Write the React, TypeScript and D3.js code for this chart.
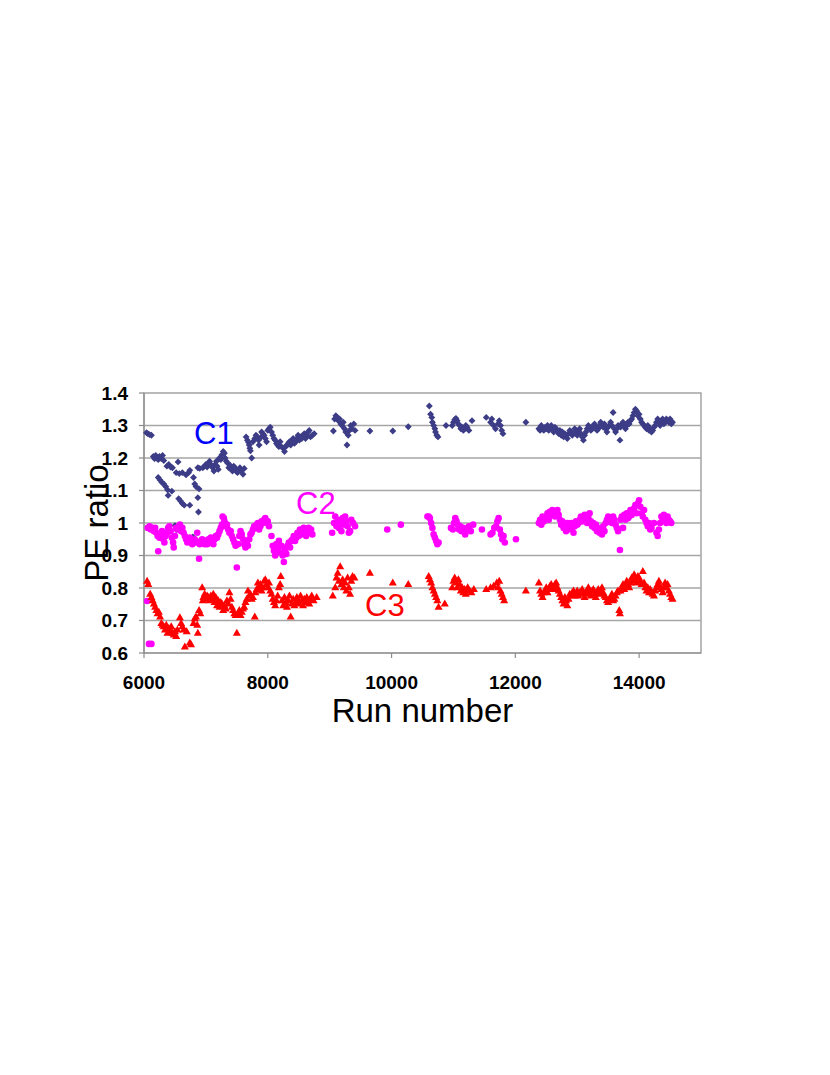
import React from "react";
import * as d3 from "d3";

const yTicks = [0.6, 0.7, 0.8, 0.9, 1, 1.1, 1.2, 1.3, 1.4];
const xTicks = [6000, 8000, 10000, 12000, 14000];

const c1Points: [number, number][] = [
  [6040,1.278],[6060,1.275],[6090,1.272],[6120,1.27],
  [6150,1.205],[6170,1.198],[6190,1.208],[6210,1.2],[6230,1.195],[6250,1.205],[6280,1.198],[6300,1.208],[6320,1.192],
  [6370,1.175],[6400,1.18],[6430,1.172],[6460,1.17],
  [6550,1.188],[6520,1.155],[6570,1.152],[6620,1.155],[6680,1.148],[6720,1.155],[6740,1.162],
  [6870,1.17],[6900,1.168],
  [6230,1.14],[6260,1.132],[6290,1.125],[6320,1.12],[6350,1.112],[6380,1.102],[6450,1.098],[6390,1.085],
  [6560,1.075],[6590,1.068],[6620,1.06],[6650,1.055],[6740,1.055],[6800,1.14],[6820,1.12],[6840,1.112],
  [6890,1.105],[6870,1.078],[6880,1.034],[6500,0.992],[6520,0.98],[6790,0.957],
  [6950,1.17],[6980,1.175],[7000,1.18],[7020,1.172],[7040,1.185],[7060,1.19],[7080,1.18],[7100,1.175],[7110,1.17],
  [7130,1.16],[7150,1.18],[7170,1.19],[7180,1.175],[7200,1.165],[7220,1.2],[7240,1.195],[7260,1.21],[7280,1.22],
  [7300,1.215],[7310,1.2],[7330,1.19],[7350,1.185],[7370,1.17],[7390,1.178],[7410,1.165],[7430,1.16],[7450,1.175],
  [7470,1.17],[7490,1.16],[7510,1.155],[7530,1.165],[7550,1.17],[7570,1.16],[7600,1.15],[7620,1.168],
  [7650,1.265],[7670,1.255],[7690,1.248],[7700,1.24],[7710,1.23],[7720,1.222],[7740,1.2],[7760,1.25],[7790,1.26],
  [7810,1.27],[7830,1.265],[7850,1.255],[7860,1.24],[7880,1.262],[7900,1.28],[7920,1.275],[7940,1.27],[7960,1.26],
  [7980,1.25],[8000,1.285],[8020,1.29],[8040,1.295],[8060,1.28],[8080,1.27],[8100,1.26],[8120,1.255],[8140,1.245],
  [8160,1.24],[8180,1.235],[8200,1.25],[8220,1.235],[8250,1.23],[8270,1.22],[8290,1.235],[8310,1.24],[8330,1.245],
  [8350,1.25],[8370,1.24],[8390,1.255],[8410,1.26],[8430,1.245],[8450,1.25],[8470,1.26],[8490,1.27],[8510,1.255],
  [8530,1.265],[8550,1.26],[8570,1.27],[8590,1.275],[8610,1.26],[8630,1.27],[8650,1.28],[8670,1.285],[8690,1.265],
  [8720,1.27],[8750,1.275],
  [9060,1.283],[9080,1.32],[9100,1.33],[9120,1.325],[9140,1.315],[9160,1.32],[9180,1.305],[9200,1.3],[9220,1.31],
  [9240,1.29],[9260,1.28],[9280,1.24],[9300,1.27],[9320,1.285],[9340,1.3],[9360,1.29],[9390,1.305],[9410,1.285],
  [9650,1.283],[10020,1.283],[10270,1.296],
  [10610,1.36],[10630,1.335],[10650,1.325],[10660,1.31],[10680,1.3],[10700,1.29],[10710,1.28],[10730,1.27],[10750,1.265],
  [10880,1.3],
  [10980,1.3],[11000,1.31],[11020,1.318],[11040,1.322],[11060,1.315],[11080,1.305],[11100,1.3],[11120,1.29],
  [11140,1.295],[11160,1.285],[11180,1.29],[11200,1.3],[11220,1.295],[11250,1.285],[11300,1.315],
  [11530,1.325],[11600,1.31],[11620,1.32],[11650,1.3],[11680,1.29],[11720,1.305],[11740,1.315],[11760,1.3],
  [11780,1.285],[11800,1.275],[12170,1.31],
  [12380,1.29],[12400,1.285],[12420,1.3],[12440,1.29],[12460,1.285],[12480,1.295],[12500,1.29],[12520,1.3],
  [12540,1.285],[12560,1.295],[12580,1.3],[12600,1.29],[12620,1.28],[12640,1.295],[12660,1.29],[12680,1.285],
  [12700,1.275],[12720,1.285],[12740,1.27],[12760,1.28],[12780,1.265],[12800,1.275],[12820,1.27],[12840,1.26],
  [12860,1.275],[12880,1.285],[12900,1.28],[12920,1.27],[12940,1.275],[12960,1.29],[12980,1.28],[13000,1.27],
  [13020,1.285],[13040,1.29],[13060,1.275],[13080,1.265],[13100,1.255],[13120,1.27],[13140,1.28],[13160,1.29],
  [13180,1.3],[13200,1.295],[13220,1.285],[13240,1.29],[13260,1.3],[13280,1.305],[13300,1.295],[13320,1.285],
  [13340,1.29],[13360,1.3],[13380,1.31],[13400,1.3],[13420,1.295],[13440,1.305],[13460,1.29],[13480,1.28],
  [13500,1.295],[13520,1.3],[13540,1.31],[13560,1.3],[13580,1.34],[13600,1.29],[13620,1.28],[13640,1.29],
  [13660,1.3],[13690,1.255],[13700,1.295],[13720,1.305],[13740,1.31],[13760,1.3],[13780,1.29],[13800,1.3],
  [13820,1.31],[13840,1.305],[13860,1.315],[13880,1.32],[13900,1.33],[13920,1.34],[13940,1.35],[13960,1.345],
  [13980,1.33],[14000,1.335],[14020,1.32],[14040,1.31],[14060,1.305],[14080,1.3],[14100,1.295],[14120,1.29],
  [14140,1.3],[14160,1.285],[14180,1.29],[14200,1.28],[14220,1.285],[14240,1.295],[14260,1.3],[14280,1.31],
  [14300,1.32],[14320,1.31],[14340,1.3],[14360,1.315],[14380,1.32],[14400,1.305],[14420,1.31],[14440,1.32],
  [14460,1.315],[14480,1.31],[14500,1.32],[14520,1.305],[14540,1.31],
];

const c2Points: [number, number][] = [
  [6050,0.76],[6080,0.628],[6120,0.628],
  [6060,0.985],[6090,0.99],[6110,0.98],[6130,0.985],[6160,0.975],[6180,0.985],[6200,0.97],[6220,0.96],[6230,0.913],
  [6250,0.955],[6270,0.965],[6290,0.975],[6310,0.95],[6330,0.94],[6350,0.96],[6370,0.97],[6390,0.985],[6410,0.99],
  [6430,0.975],[6450,0.955],[6470,0.94],[6480,0.925],[6500,0.96],[6520,0.985],[6540,0.98],[6560,0.99],[6580,0.995],
  [6600,0.975],[6620,0.985],[6640,0.97],[6660,0.96],[6680,0.95],[6700,0.94],[6720,0.945],[6740,0.955],[6760,0.94],
  [6780,0.935],[6800,0.945],[6820,0.95],[6840,0.94],[6860,0.97],[6890,0.89],[6900,0.935],[6920,0.945],[6940,0.95],
  [6960,0.94],[6980,0.935],
  [7000,0.945],[7020,0.935],[7040,0.95],[7060,0.94],[7080,0.955],[7100,0.945],[7120,0.935],[7140,0.95],[7160,0.96],
  [7180,0.955],[7200,0.965],[7220,0.975],[7240,0.985],[7260,0.995],[7270,1.02],[7290,1.015],[7300,1.005],[7320,0.99],
  [7340,0.995],[7360,0.98],[7380,0.97],[7400,0.975],[7420,0.96],[7440,0.95],[7460,0.94],[7480,0.93],[7500,0.863],
  [7520,0.935],[7540,0.96],[7560,0.975],[7580,0.965],[7600,0.95],[7620,0.935],[7640,0.925],[7660,0.94],[7680,0.93],
  [7700,0.95],[7720,0.965],[7740,0.97],[7760,0.98],[7780,0.99],[7800,0.985],[7820,0.995],[7840,1.0],[7860,0.98],
  [7880,0.99],[7900,1.005],[7920,1.0],[7940,1.01],[7960,1.015],[7980,1.0],[8000,1.005],[8020,0.99],[8060,0.96],
  [8080,0.93],[8100,0.915],[8120,0.9],[8140,0.935],[8160,0.92],[8180,0.945],[8200,0.91],[8220,0.93],[8240,0.9],
  [8260,0.88],[8280,0.92],[8300,0.905],[8320,0.93],[8340,0.94],[8360,0.925],[8380,0.945],[8400,0.95],[8420,0.96],
  [8440,0.945],[8460,0.955],[8480,0.97],[8500,0.96],[8520,0.98],[8540,0.965],[8560,0.975],[8580,0.985],[8600,0.97],
  [8620,0.96],[8640,0.975],[8660,0.985],[8680,0.97],[8700,0.98],[8720,0.965],
  [9040,0.97],[9070,1.0],[9090,1.02],[9110,0.99],[9130,1.01],[9150,0.985],[9170,1.0],[9190,0.975],[9210,1.015],
  [9230,0.995],[9250,1.02],[9270,1.005],[9290,0.99],[9310,0.97],[9330,0.975],[9350,1.01],[9380,1.0],[9410,0.99],
  [9930,0.98],[10150,0.995],
  [10580,1.02],[10600,1.02],[10620,1.015],[10640,1.0],[10660,0.985],[10680,0.965],[10700,0.955],[10720,0.945],
  [10740,0.935],[10760,0.94],
  [10960,0.985],[10990,0.98],[11010,1.0],[11030,1.015],[11050,1.005],[11070,0.995],[11090,0.98],[11110,0.99],
  [11130,0.975],[11160,0.985],[11190,0.965],[11220,0.98],[11250,0.99],[11280,0.975],[11320,0.995],[11460,0.98],
  [11600,0.965],[11630,0.97],[11660,0.985],[11690,0.99],[11710,1.005],[11730,1.015],[11750,0.98],[11770,0.965],
  [11790,0.95],[11810,0.96],[11830,0.94],[12010,0.95],
  [12380,1.0],[12400,1.01],[12420,0.995],[12440,1.02],[12460,1.005],[12480,1.015],[12500,1.02],[12520,1.03],
  [12540,1.01],[12560,1.035],[12580,1.025],[12600,1.04],[12620,1.03],[12640,1.02],[12660,1.035],[12680,1.04],
  [12700,1.025],[12720,1.01],[12740,0.995],[12760,1.005],[12780,0.985],[12800,0.99],[12820,0.975],[12840,1.0],
  [12860,0.98],[12880,0.99],[12900,1.0],[12920,0.985],[12940,0.97],[12960,0.99],[12980,1.005],[13000,0.995],
  [13020,1.0],[13040,1.01],[13060,1.02],[13080,1.005],[13100,1.015],[13120,1.025],[13140,1.01],[13160,1.0],
  [13180,1.015],[13200,1.03],[13220,1.005],[13240,0.99],[13260,1.0],[13280,0.985],[13300,0.995],[13320,0.975],
  [13340,0.985],[13360,0.97],[13380,0.98],[13400,0.965],[13420,0.99],[13440,0.975],[13690,0.917],[13460,1.0],
  [13480,1.01],[13500,1.02],[13520,1.005],[13540,1.015],[13560,1.0],[13580,1.02],[13600,1.01],[13620,0.995],
  [13640,0.985],[13660,0.975],[13700,1.01],[13720,1.02],[13740,0.985],[13760,1.025],[13780,1.01],[13800,1.03],
  [13820,1.015],[13840,1.02],[13860,1.04],[13880,1.025],[13900,1.035],[13920,1.045],[13940,1.055],[13960,1.03],
  [13980,1.06],[14000,1.07],[14020,1.05],[14040,1.03],[14060,1.02],[14080,1.04],[14100,1.01],[14120,1.0],
  [14140,0.99],[14160,1.0],[14180,0.98],[14200,0.985],[14240,1.0],[14280,0.97],[14300,0.96],[14320,0.98],
  [14340,1.0],[14360,1.02],[14380,1.01],[14400,1.025],[14420,1.015],[14440,1.0],[14460,1.02],[14480,1.01],
  [14500,1.005],[14520,1.0],
];

const c3Points: [number, number][] = [
  [6050,0.82],[6070,0.81],[6100,0.78],[6120,0.77],[6140,0.76],[6160,0.75],[6180,0.74],[6200,0.73],[6220,0.72],
  [6240,0.725],[6260,0.71],[6280,0.69],[6300,0.685],[6320,0.68],[6340,0.67],[6360,0.685],[6380,0.66],[6400,0.675],
  [6420,0.665],[6440,0.68],[6460,0.66],[6480,0.655],[6500,0.665],[6520,0.65],[6540,0.67],[6580,0.708],[6600,0.69],
  [6620,0.68],[6640,0.67],[6660,0.618],[6690,0.665],[6740,0.63],[6760,0.625],[6800,0.69],[6820,0.705],[6840,0.71],
  [6860,0.685],[6870,0.66],[6890,0.73],[6910,0.72],[6940,0.8],[6950,0.76],[6960,0.77],[6980,0.78],[7000,0.765],
  [7020,0.775],[7040,0.77],[7060,0.76],[7080,0.775],[7100,0.765],[7120,0.78],[7140,0.755],[7160,0.77],[7180,0.745],
  [7200,0.76],[7220,0.74],[7240,0.755],[7260,0.75],[7280,0.73],[7300,0.745],[7320,0.735],[7340,0.76],[7360,0.75],
  [7380,0.785],[7400,0.765],[7420,0.74],[7440,0.73],[7460,0.72],[7480,0.715],[7500,0.66],[7520,0.72],[7540,0.73],
  [7560,0.715],[7580,0.725],[7600,0.735],[7620,0.74],[7640,0.755],[7660,0.765],[7680,0.79],[7700,0.775],[7720,0.78],
  [7740,0.765],[7760,0.77],[7790,0.71],[7800,0.785],[7820,0.795],[7840,0.815],[7860,0.8],[7880,0.81],[7900,0.79],
  [7920,0.8],[7940,0.82],[7960,0.825],[7980,0.81],[8000,0.8],[8020,0.815],[8040,0.79],[8060,0.78],[8080,0.765],
  [8100,0.755],[8120,0.745],[8140,0.76],[8160,0.775],[8180,0.8],[8200,0.81],[8210,0.835],[8230,0.76],[8250,0.745],
  [8270,0.77],[8290,0.755],[8310,0.74],[8330,0.76],[8350,0.775],[8370,0.71],[8390,0.75],[8410,0.765],[8430,0.745],
  [8450,0.755],[8470,0.77],[8490,0.76],[8510,0.75],[8530,0.775],[8550,0.76],[8570,0.745],[8590,0.765],[8610,0.755],
  [8630,0.77],[8650,0.76],[8670,0.75],[8690,0.765],[8710,0.775],[8740,0.76],[8790,0.77],
  [9050,0.775],[9090,0.8],[9110,0.83],[9130,0.845],[9150,0.82],[9170,0.865],[9190,0.81],[9210,0.825],[9230,0.8],
  [9250,0.815],[9270,0.79],[9290,0.83],[9310,0.8],[9330,0.78],[9350,0.82],[9370,0.835],[9400,0.83],
  [9650,0.845],[10020,0.815],[10270,0.81],
  [10600,0.835],[10620,0.825],[10640,0.815],[10660,0.8],[10680,0.79],[10700,0.78],[10720,0.77],[10740,0.76],
  [10760,0.74],[10860,0.75],
  [10980,0.8],[11000,0.82],[11020,0.83],[11040,0.815],[11060,0.8],[11080,0.825],[11100,0.81],[11120,0.79],
  [11140,0.8],[11160,0.785],[11180,0.795],[11200,0.78],[11230,0.8],[11260,0.79],[11290,0.785],[11330,0.795],
  [11530,0.795],[11600,0.8],[11650,0.805],[11700,0.815],[11720,0.8],[11740,0.82],[11760,0.79],[11780,0.78],
  [11800,0.77],[11820,0.76],[12170,0.79],
  [12380,0.815],[12400,0.79],[12420,0.78],[12440,0.77],[12460,0.785],[12480,0.79],[12500,0.8],[12520,0.785],
  [12540,0.795],[12560,0.805],[12580,0.81],[12600,0.8],[12620,0.795],[12640,0.81],[12660,0.815],[12680,0.8],
  [12700,0.79],[12720,0.78],[12740,0.77],[12760,0.76],[12780,0.75],[12800,0.77],[12820,0.76],[12840,0.745],
  [12860,0.765],[12880,0.78],[12900,0.775],[12920,0.785],[12940,0.79],[12960,0.775],[12980,0.78],[13000,0.79],
  [13020,0.775],[13040,0.785],[13060,0.78],[13080,0.795],[13100,0.785],[13120,0.77],[13140,0.78],[13160,0.79],
  [13180,0.8],[13200,0.785],[13220,0.775],[13240,0.79],[13260,0.795],[13280,0.78],[13300,0.77],[13320,0.785],
  [13340,0.795],[13360,0.78],[13380,0.79],[13400,0.8],[13420,0.785],[13440,0.775],[13460,0.77],[13480,0.76],
  [13500,0.755],[13520,0.765],[13540,0.77],[13560,0.78],[13580,0.76],[13600,0.765],[13620,0.775],[13640,0.785],
  [13660,0.79],[13680,0.73],[13690,0.72],[13700,0.79],[13720,0.8],[13740,0.81],[13760,0.795],[13780,0.805],
  [13800,0.82],[13820,0.81],[13840,0.8],[13860,0.815],[13880,0.83],[13900,0.82],[13920,0.84],[13940,0.825],
  [13960,0.815],[13980,0.835],[14000,0.83],[14020,0.82],[14040,0.81],[14060,0.85],[14080,0.815],[14100,0.8],
  [14120,0.79],[14140,0.8],[14160,0.785],[14180,0.795],[14200,0.785],[14220,0.78],[14240,0.775],[14260,0.79],
  [14280,0.8],[14300,0.81],[14320,0.82],[14340,0.805],[14360,0.795],[14380,0.785],[14400,0.8],[14420,0.815],
  [14440,0.8],[14460,0.81],[14480,0.79],[14500,0.78],[14520,0.77],[14540,0.765],
];

const W = 830;
const H = 1075;
const left = 144;
const right = 701;
const top = 393;
const bottom = 653;

export default function App() {
  const x = d3.scaleLinear().domain([6000, 15000]).range([left, right]);
  const y = d3.scaleLinear().domain([0.6, 1.4]).range([bottom, top]);
  const diamondType = (d3 as any).symbolDiamond2 || d3.symbolDiamond;
  const diamond = d3.symbol().type(diamondType).size(30)() as string;
  const triangle = d3.symbol().type(d3.symbolTriangle).size(28)() as string;
  const font = "Arial, 'Liberation Sans', sans-serif";
  const midY = (top + bottom) / 2;
  const labelX = 108;
  return (
    <svg width={W} height={H} style={{ position: "absolute", left: 0, top: 0, background: "#fff" }}>
      <rect x={left} y={top} width={right - left} height={bottom - top} fill="#fff" stroke="#8c8c8c" strokeWidth={1.2} />
      {yTicks.map((t) => (
        <g key={"y" + t}>
          {t > 0.6 && t < 1.4 && (
            <line x1={left} x2={right} y1={y(t)} y2={y(t)} stroke="#a6a6a6" strokeWidth={1.5} />
          )}
          <line x1={left - 5} x2={left} y1={y(t)} y2={y(t)} stroke="#8c8c8c" strokeWidth={1.2} />
          <text x={128} y={y(t)} dy="0.36em" textAnchor="end" fontFamily={font} fontWeight="bold" fontSize={19} fill="#000">
            {t === 1 ? "1" : t.toFixed(1)}
          </text>
        </g>
      ))}
      {xTicks.map((t) => (
        <g key={"x" + t}>
          <line x1={x(t)} x2={x(t)} y1={bottom} y2={bottom + 5} stroke="#8c8c8c" strokeWidth={1.2} />
          <text x={x(t)} y={689} textAnchor="middle" fontFamily={font} fontWeight="bold" fontSize={19} fill="#000">
            {t}
          </text>
        </g>
      ))}
      <line x1={left} x2={left} y1={top} y2={bottom} stroke="#8c8c8c" strokeWidth={1.2} />
      <line x1={left} x2={right} y1={bottom} y2={bottom} stroke="#8c8c8c" strokeWidth={1.2} />

      <g fill="#3c3c87">
        {c1Points.map(([r, v], i) => (
          <path key={"a" + i} d={diamond} transform={`translate(${x(r)},${y(v)})`} />
        ))}
      </g>
      <g fill="#ff00ff">
        {c2Points.map(([r, v], i) => (
          <circle key={"b" + i} cx={x(r)} cy={y(v)} r={3.3} />
        ))}
      </g>
      <g fill="#ff0000">
        {c3Points.map(([r, v], i) => (
          <path key={"c" + i} d={triangle} transform={`translate(${x(r)},${y(v)})`} />
        ))}
      </g>

      <text x={194} y={444} fontFamily={font} fontSize={31} fill="#0000ff">C1</text>
      <text x={296} y={514} fontFamily={font} fontSize={31} fill="#ff00ff">C2</text>
      <text x={365} y={616} fontFamily={font} fontSize={31} fill="#ff0000">C3</text>

      <text
        x={labelX}
        y={midY}
        transform={`rotate(-90 ${labelX} ${midY})`}
        textAnchor="middle"
        fontFamily={font}
        fontSize={33}
        fill="#000"
      >
        PE ratio
      </text>
      <text x={(left + right) / 2} y={722} textAnchor="middle" fontFamily={font} fontSize={33} fill="#000">
        Run number
      </text>
    </svg>
  );
}
